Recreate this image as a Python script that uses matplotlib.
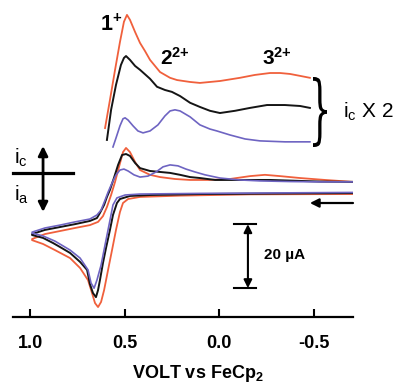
import matplotlib
matplotlib.use("Agg")
import matplotlib.pyplot as plt
from matplotlib.textpath import TextPath
from matplotlib.patches import PathPatch
from matplotlib.transforms import Affine2D, IdentityTransform
from matplotlib.font_manager import FontProperties

plt.rcParams['font.family'] = ['Liberation Sans', 'DejaVu Sans']
plt.rcParams['mathtext.fontset'] = 'custom'
plt.rcParams['mathtext.rm'] = 'Liberation Sans'
plt.rcParams['mathtext.it'] = 'Liberation Sans:italic'
plt.rcParams['mathtext.bf'] = 'Liberation Sans:bold'

# potential (V vs FeCp2) and current (uA, cathodic positive)
# full CV cycles: forward scan (to +1.0 V) then reverse scan
black_v = [-0.709, -0.429, 0.101, 0.365, 0.471, 0.524, 0.540, 0.561, 0.577, 0.598, 0.614, 0.630,
           0.640, 0.651, 0.667, 0.683, 0.698, 0.735, 0.788, 0.841, 0.878, 0.931, 0.989,
           0.989, 0.921, 0.841, 0.762, 0.683, 0.646, 0.630, 0.608, 0.593, 0.577, 0.556, 0.534,
           0.513, 0.492, 0.471, 0.444, 0.418, 0.365, 0.312, 0.259, 0.206, 0.153, 0.101, 0.021,
           -0.058, -0.164, -0.270, -0.376, -0.534, -0.709]
black_i = [-1.9, -2.0, -2.2, -2.5, -2.8, -3.75, -5.0, -8.75, -13.4, -19.1, -23.75, -29.1,
           -32.2, -34.4, -33.1, -30.3, -25.9, -23.4, -20.6, -18.75, -17.5, -15.9, -15.0,
           -14.7, -13.4, -12.5, -11.6, -10.6, -9.7, -8.1, -5.6, -3.1, -0.9, 2.8, 6.9,
           10.0, 10.3, 9.7, 7.5, 5.9, 5.0, 4.7, 4.4, 3.8, 3.1, 2.8, 2.2,
           2.2, 2.2, 2.2, 2.0, 1.7, 1.6]

blue_v = [-0.709, 0.101, 0.418, 0.497, 0.540, 0.561, 0.582, 0.603, 0.624, 0.646, 0.661, 0.677,
          0.693, 0.735, 0.788, 0.868, 0.931, 0.989,
          0.989, 0.921, 0.841, 0.762, 0.683, 0.646, 0.624, 0.603, 0.587, 0.566, 0.545, 0.524,
          0.503, 0.481, 0.450, 0.418, 0.376, 0.333, 0.296, 0.259, 0.217, 0.175, 0.127, 0.074,
          -0.005, -0.111, -0.217, -0.376, -0.534, -0.709]
blue_i = [-1.7, -2.0, -2.2, -2.5, -3.4, -5.6, -11.9, -18.1, -24.4, -29.1, -31.6, -30.0,
          -25.9, -22.2, -19.7, -16.9, -15.3, -14.4,
          -14.1, -12.8, -11.9, -10.9, -10.0, -8.75, -7.2, -4.1, -1.6, 1.25, 3.75, 5.3,
          5.6, 5.0, 3.8, 3.1, 3.4, 4.7, 6.3, 6.9, 6.6, 5.6, 4.7, 3.8,
          2.8, 2.2, 1.9, 1.7, 1.6, 1.6]

orange_v = [-0.709, -0.164, 0.206, 0.418, 0.481, 0.508, 0.524, 0.545, 0.566, 0.587, 0.608, 0.624,
            0.640, 0.656, 0.672, 0.693, 0.735, 0.788, 0.868, 0.931, 0.989,
            0.989, 0.921, 0.841, 0.762, 0.683, 0.640, 0.614, 0.593, 0.571, 0.550, 0.529, 0.508,
            0.492, 0.471, 0.444, 0.418, 0.365, 0.312, 0.233, 0.153, 0.048, -0.058, -0.164,
            -0.243, -0.323, -0.429, -0.561, -0.709]
orange_i = [-2.2, -2.3, -2.7, -3.1, -3.75, -5.0, -7.8, -13.4, -19.7, -25.9, -32.2, -35.9,
            -37.5, -36.25, -33.1, -29.1, -25.3, -22.2, -19.7, -17.8, -16.6,
            -16.25, -14.7, -13.75, -12.8, -11.9, -10.9, -9.1, -6.25, -2.5, 1.6, 6.3, 10.9,
            12.2, 10.9, 7.8, 5.3, 3.8, 3.1, 2.5, 2.2, 2.2, 2.5, 3.4,
            3.8, 3.4, 2.8, 2.2, 1.6]

# cathodic part of the reverse scan, i_c x 2 (shifted up)
orange_amp_v = [0.603, 0.577, 0.550, 0.524, 0.503, 0.487, 0.471, 0.444, 0.418, 0.392, 0.365, 0.312,
                0.259, 0.222, 0.153, 0.101, -0.005, -0.111, -0.190, -0.270, -0.323, -0.376, -0.429, -0.481]
orange_amp_i = [18.4, 27.2, 36.6, 45.3, 51.6, 53.75, 52.2, 48.4, 45.0, 42.5, 39.7, 35.9,
                34.1, 33.4, 32.8, 32.5, 33.1, 34.1, 35.0, 35.6, 35.6, 35.3, 34.7, 34.1]
black_amp_v = [0.593, 0.571, 0.545, 0.519, 0.503, 0.492, 0.471, 0.444, 0.418, 0.365, 0.328, 0.286,
               0.249, 0.206, 0.153, 0.101, 0.048, -0.005, -0.085, -0.164, -0.254, -0.349, -0.429, -0.481]
black_amp_i = [14.7, 24.1, 31.9, 38.1, 40.3, 40.9, 39.7, 37.8, 36.6, 33.8, 31.3, 30.3,
               29.7, 28.4, 26.3, 25.0, 23.8, 23.1, 23.8, 24.7, 25.6, 25.6, 25.3, 24.7]
blue_amp_v = [0.561, 0.545, 0.524, 0.508, 0.497, 0.481, 0.455, 0.429, 0.402, 0.365, 0.323, 0.286,
              0.259, 0.233, 0.206, 0.153, 0.101, 0.048, 0.011, -0.058, -0.138, -0.217, -0.349, -0.481]
blue_amp_i = [12.5, 15.3, 19.1, 21.3, 21.6, 20.9, 19.1, 17.5, 16.9, 17.5, 19.4, 22.2,
              23.75, 24.1, 23.75, 21.9, 19.4, 18.1, 17.5, 16.25, 15.0, 14.4, 14.1, 14.1]

xticks = [1.0, 0.5, 0.0, -0.5]
xtick_labels = ['1.0', '0.5', '0.0', '-0.5']

c_orange = '#f0603c'
c_black = '#151515'
c_blue = '#6e64c2'

fig = plt.figure(figsize=(3.96, 3.85), dpi=100)
ax = fig.add_axes([13 / 396, 68 / 385, 340 / 396, 317 / 385])

ax.plot(orange_v, orange_i, color=c_orange, lw=1.3)
ax.plot(black_v, black_i, color=c_black, lw=1.4)
ax.plot(blue_v, blue_i, color=c_blue, lw=1.2)
ax.plot(orange_amp_v, orange_amp_i, color=c_orange, lw=1.3)
ax.plot(black_amp_v, black_amp_i, color=c_black, lw=1.4)
ax.plot(blue_amp_v, blue_amp_i, color=c_blue, lw=1.2)

ax.set_xlim(1.09, -0.709)
ax.set_ylim(-40.6, 58.4)
for s in ['left', 'right', 'top']:
    ax.spines[s].set_visible(False)
ax.spines['bottom'].set_linewidth(1.6)
ax.set_yticks([])
ax.set_xticks(xticks)
ax.set_xticklabels(xtick_labels, fontsize=13, fontweight='bold')
ax.tick_params(axis='x', direction='in', length=6, width=1.5, pad=13)

fig.text(198 / 396, 11 / 385, 'VOLT vs FeCp$_\\mathbf{2}$', fontsize=13, fontweight='bold',
         ha='center', va='center')

# peak labels
ax.text(0.630, 48.75, r'$\mathbf{1^{+}}$', fontsize=15.5, ha='left', va='baseline')
ax.text(0.312, 38.1, r'$\mathbf{2^{2{+}}}$', fontsize=15, ha='left', va='baseline')
ax.text(-0.228, 38.1, r'$\mathbf{3^{2{+}}}$', fontsize=15, ha='left', va='baseline')
ax.text(-0.656, 23.4, r'i$_\mathrm{c}$ X 2', fontsize=15, ha='left', va='center', clip_on=False)

# brace
tp = TextPath((0, 0), '}', size=1, prop=FontProperties(family='DejaVu Serif'))
ext = tp.get_extents()
tr = (Affine2D().translate(-ext.x0, -ext.y0)
      .scale(14 / ext.width, 70 / ext.height).translate(313, 238))
fig.patches.append(PathPatch(tr.transform_path(tp), facecolor='black', edgecolor='none',
                             transform=IdentityTransform(), figure=fig))

# i_c / i_a cross
ax.plot([1.09, 0.772], [4.4, 4.4], color='black', lw=2.3, clip_on=False)
ax.annotate('', xy=(0.931, 12.8), xytext=(0.931, 4.4),
            arrowprops=dict(arrowstyle='-|>', color='black', lw=2, mutation_scale=14, shrinkA=0, shrinkB=0))
ax.annotate('', xy=(0.931, -7.8), xytext=(0.931, 4.4),
            arrowprops=dict(arrowstyle='-|>', color='black', lw=2, mutation_scale=14, shrinkA=0, shrinkB=0))
ax.text(1.085, 9.0, r'i$_\mathrm{c}$', fontsize=15, ha='left', va='center')
ax.text(1.085, -2.5, r'i$_\mathrm{a}$', fontsize=15, ha='left', va='center')

# scan direction arrow
ax.annotate('', xy=(-0.481, -5.0), xytext=(-0.709, -5.0),
            arrowprops=dict(arrowstyle='-|>', color='black', lw=1.6, mutation_scale=13, shrinkA=0, shrinkB=0))

# 20 uA scale bar
ax.annotate('', xy=(-0.153, -11.6), xytext=(-0.153, -31.6),
            arrowprops=dict(arrowstyle='<|-|>', color='black', lw=1.5, mutation_scale=12, shrinkA=0, shrinkB=0))
ax.plot([-0.079, -0.196], [-11.6, -11.6], color='black', lw=1.5)
ax.plot([-0.079, -0.196], [-31.6, -31.6], color='black', lw=1.5)
ax.text(-0.238, -21.25, '20 µA', fontsize=11, fontweight='bold', ha='left', va='center')

fig.savefig('out.png', dpi=100)
